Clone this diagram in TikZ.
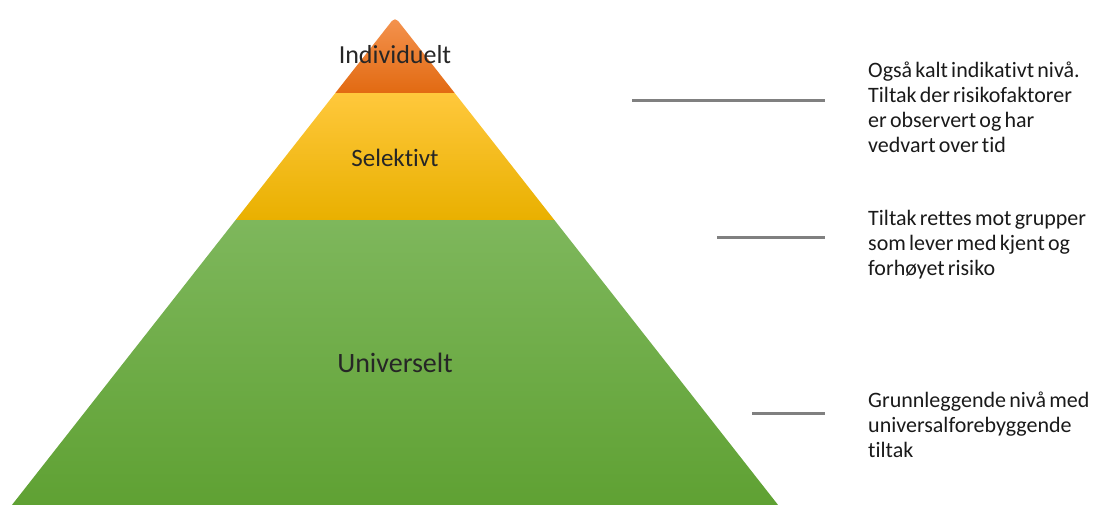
\documentclass[tikz,border=0pt]{standalone}
\usepackage{fontspec}
\setmainfont[RawFeature={-liga;-clig}]{Carlito}
\usetikzlibrary{positioning}
\tikzstyle{diagram} = [x = 1pt, y = -1pt]
\definecolor{orangeTop}{HTML}{F4934F}
\definecolor{orangeBottom}{HTML}{E26A12}
\definecolor{yellowTop}{HTML}{FFC83C}
\definecolor{yellowBottom}{HTML}{E9B000}
\definecolor{greenTop}{HTML}{7EB75C}
\definecolor{greenBottom}{HTML}{5FA133}
\definecolor{levelInk}{HTML}{262626}
\definecolor{noteInk}{HTML}{1A1A1A}
\definecolor{pointerGray}{HTML}{808080}
\tikzstyle{levelText} = [text=levelInk, inner sep=0pt, anchor=base]
\tikzstyle{noteText} = [font=\fontsize{22}{25}\selectfont, text=noteInk, align=left, text width=240pt, inner sep=0pt, anchor=base west, execute at begin node={\spaceskip=3.2pt plus 1pt minus 1pt\relax}]
\tikzstyle{pointerLine} = [color=pointerGray, line width=3pt]
\newcommand{\apexX}{395}
\newcommand{\apexY}{17}
\newcommand{\slope}{.785}
\newcommand{\leftAt}[1]{({\apexX - \slope * (#1 - \apexY)}, #1)}
\newcommand{\rightAt}[1]{({\apexX + \slope * (#1 - \apexY)}, #1)}
\newcommand{\band}[4]{\shade [top color=#3, bottom color=#4] \leftAt{#1} -- \rightAt{#1} -- \rightAt{#2} -- \leftAt{#2} -- cycle;}

\begin{document}
\begin{tikzpicture}[diagram]
  \useasboundingbox (0,0) rectangle (1094,504);

  % pyramid
  \shade [top color=orangeTop, bottom color=orangeBottom] \leftAt{93} [rounded corners=5pt] -- (\apexX,\apexY) [sharp corners] -- \rightAt{93} -- cycle;
  \band{93}{220}{yellowTop}{yellowBottom}
  \band{220}{506}{greenTop}{greenBottom}

  \node [levelText, font=\fontsize{26}{30}\selectfont] (individuelt) at (395,63) {Individuelt};
  \node [levelText, font=\fontsize{25}{30}\selectfont] (selektivt) at (395,166) {Selektivt};
  \node [levelText, font=\fontsize{28}{32}\selectfont] (universelt) at (395,372) {Universelt};

  % notes
  \node [noteText] (noteIndikativt) at (868,77) {Også kalt indikativt nivå.\\Tiltak der risikofaktorer\\er observert og har\\vedvart over tid};
  \node [noteText] (noteSelektivt) at (868,225) {Tiltak rettes mot grupper\\som lever med kjent og\\forhøyet risiko};
  \node [noteText] (noteUniversell) at (868,407) {Grunnleggende nivå med\\universalforebyggende\\tiltak};

  \coordinate (pointerA) at (632,100);
  \coordinate (pointerAEnd) at (825,100);
  \coordinate (pointerB) at (717,237);
  \coordinate (pointerBEnd) at (825,237);
  \coordinate (pointerC) at (752,413);
  \coordinate (pointerCEnd) at (825,413);
  \draw [pointerLine] (pointerA) -- (pointerAEnd);
  \draw [pointerLine] (pointerB) -- (pointerBEnd);
  \draw [pointerLine] (pointerC) -- (pointerCEnd);
\end{tikzpicture}
\end{document}
